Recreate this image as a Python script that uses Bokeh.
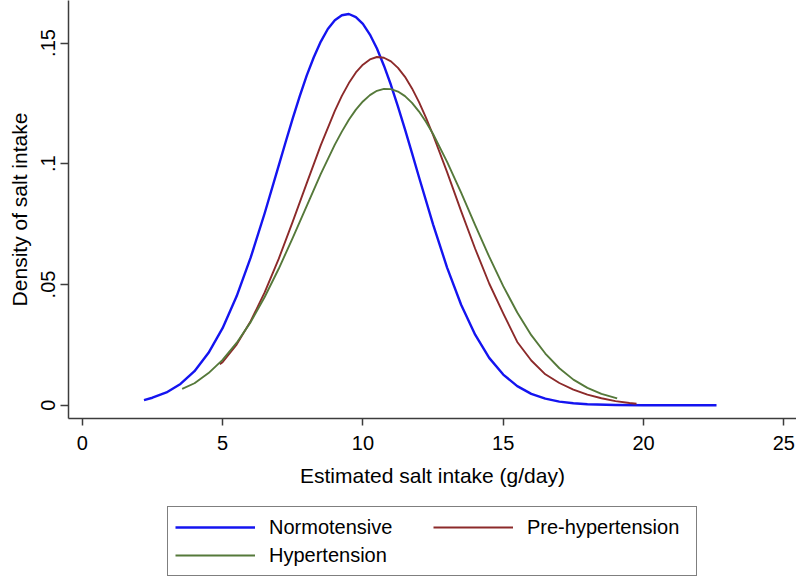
from bokeh.plotting import figure
from bokeh.layouts import column
from bokeh.models import FixedTicker, Legend, LegendItem, Range1d
from bokeh.embed import file_html
from bokeh.resources import INLINE

# ---- data ----
norm_x = [2.2, 2.5, 3.0, 3.5, 4.0, 4.5, 5.0, 5.5, 6.0, 6.5, 7.0, 7.25, 7.5, 7.75, 8.0,
          8.25, 8.5, 8.75, 9.0, 9.25, 9.5, 9.75, 10.0, 10.25, 10.5, 10.75, 11.0, 11.25,
          11.5, 11.75, 12.0, 12.5, 13.0, 13.5, 14.0, 14.5, 15.0, 15.5, 16.0, 16.5, 17.0,
          17.5, 18.0, 19.0, 20.0, 21.0, 22.6]
norm_y = [0.0021, 0.0031, 0.0053, 0.0088, 0.0141, 0.0217, 0.0319, 0.0451, 0.0611, 0.0795,
          0.0992, 0.1091, 0.1188, 0.1280, 0.1366, 0.1441, 0.1506, 0.1558, 0.1594, 0.1615,
          0.1620, 0.1607, 0.1579, 0.1535, 0.1477, 0.1406, 0.1326, 0.1237, 0.1142, 0.1044,
          0.0944, 0.0749, 0.0570, 0.0416, 0.0292, 0.0196, 0.0127, 0.0079, 0.0047, 0.0027,
          0.0015, 0.0008, 0.0004, 0.0001, 0.0, 0.0, 0.0]

pre_x = [4.9, 5.0, 5.5, 6.0, 6.5, 7.0, 7.5, 8.0, 8.5, 9.0, 9.25, 9.5, 9.75, 10.0, 10.25,
         10.5, 10.75, 11.0, 11.25, 11.5, 11.75, 12.0, 12.25, 12.5, 13.0, 13.5, 14.0, 14.5,
         15.0, 15.5, 16.0, 16.5, 17.0, 17.5, 18.0, 18.5, 19.0, 19.5, 19.75]
pre_y = [0.0170, 0.0178, 0.0251, 0.0348, 0.0467, 0.0606, 0.0760, 0.0920, 0.1077, 0.1219,
         0.1281, 0.1334, 0.1378, 0.1410, 0.1432, 0.1442, 0.1439, 0.1424, 0.1397, 0.1360,
         0.1312, 0.1255, 0.1190, 0.1119, 0.0965, 0.0804, 0.0648, 0.0504, 0.0380, 0.0262,
         0.0185, 0.0128, 0.0092, 0.0065, 0.0044, 0.0029, 0.0017, 0.0009, 0.0006]

hyp_x = [3.56, 4.0, 4.5, 5.0, 5.5, 6.0, 6.5, 7.0, 7.5, 8.0, 8.5, 9.0, 9.25, 9.5, 9.75,
         10.0, 10.25, 10.5, 10.75, 11.0, 11.25, 11.5, 11.75, 12.0, 12.25, 12.5, 13.0, 13.5,
         14.0, 14.5, 15.0, 15.5, 16.0, 16.5, 17.0, 17.5, 18.0, 18.5, 19.06]
hyp_y = [0.0068, 0.0091, 0.0133, 0.0188, 0.0258, 0.0344, 0.0448, 0.0565, 0.0693, 0.0826,
         0.0958, 0.1079, 0.1133, 0.1182, 0.1224, 0.1258, 0.1284, 0.1302, 0.1310, 0.1309,
         0.1299, 0.1280, 0.1252, 0.1216, 0.1173, 0.1123, 0.1008, 0.0880, 0.0746, 0.0615,
         0.0493, 0.0384, 0.0290, 0.0214, 0.0153, 0.0106, 0.0072, 0.0047, 0.0028]

series_names = ["Normotensive", "Pre-hypertension", "Hypertension"]
series_colors = ["#1414f0", "#8c2a2a", "#55793a"]
series_widths = [2.4, 1.9, 1.9]
x_ticks = [0, 5, 10, 15, 20, 25]
y_ticks = [0, 0.05, 0.1, 0.15]
y_tick_labels = ["0", ".05", ".1", ".15"]
x_title = "Estimated salt intake (g/day)"
y_title = "Density of salt intake"

FONT = "Liberation Sans"
AXIS_COLOR = "#3c3c3c"
series = [(norm_x, norm_y), (pre_x, pre_y), (hyp_x, hyp_y)]

# ---- main chart ----
p = figure(width=796, height=500, output_backend="svg", toolbar_location=None,
           x_range=Range1d(-0.49, 25.45), y_range=Range1d(-0.0055, 0.1676),
           min_border_left=68, min_border_right=0, min_border_top=0, min_border_bottom=82)
p.outline_line_color = None
p.xgrid.visible = False
p.ygrid.visible = False

for (xs, ys), c, w in zip(series, series_colors, series_widths):
    p.line(xs, ys, line_color=c, line_width=w, line_join="round")

for ax in (p.xaxis[0], p.yaxis[0]):
    ax.axis_line_color = AXIS_COLOR
    ax.axis_line_width = 1.5
    ax.major_tick_line_color = AXIS_COLOR
    ax.major_tick_line_width = 1.5
    ax.major_tick_in = 0
    ax.minor_tick_line_color = None
    ax.major_label_text_font = FONT
    ax.major_label_text_font_size = "20px"
    ax.major_label_text_color = "black"
    ax.axis_label_text_font = FONT
    ax.axis_label_text_font_size = "21px"
    ax.axis_label_text_font_style = "normal"
    ax.axis_label_text_color = "black"

p.xaxis.ticker = FixedTicker(ticks=x_ticks)
p.xaxis.major_tick_out = 7
p.xaxis.major_label_standoff = 10
p.xaxis.axis_label = x_title
p.xaxis.axis_label_standoff = 11

p.yaxis.ticker = FixedTicker(ticks=y_ticks)
p.yaxis.major_label_overrides = {t: s for t, s in zip(y_ticks, y_tick_labels)}
p.yaxis.major_label_orientation = "vertical"
p.yaxis.major_tick_out = 8
p.yaxis.major_label_standoff = 5
p.yaxis.axis_label = y_title
p.yaxis.axis_label_standoff = 8

# ---- legend strip (same series, drawn outside its view, only for the key) ----
pl = figure(width=796, height=77, output_backend="svg", toolbar_location=None,
            x_range=Range1d(-0.49, 25.45), y_range=Range1d(1.0, 2.0),
            x_axis_location=None, y_axis_location=None,
            min_border_left=0, min_border_right=0, min_border_top=0, min_border_bottom=0)
pl.outline_line_color = None
pl.xgrid.visible = False
pl.ygrid.visible = False
key_renderers = []
for (xs, ys), c, w in zip(series, series_colors, series_widths):
    key_renderers.append(pl.line(xs, ys, line_color=c, line_width=w))

legend = Legend(items=[LegendItem(label=n, renderers=[r])
                       for n, r in zip(series_names, key_renderers)],
                orientation="horizontal", ncols=2, location=(99, 1))
legend.margin = 0
legend.padding = 7
legend.spacing = 2
legend.glyph_width = 80
legend.glyph_height = 26
legend.label_standoff = 14
legend.label_width = 162
legend.label_text_font = FONT
legend.label_text_font_size = "20px"
legend.label_text_color = "black"
legend.border_line_color = "black"
legend.border_line_width = 1
legend.background_fill_color = "white"
legend.background_fill_alpha = 1
pl.add_layout(legend, "center")

layout = column(p, pl, spacing=0)
open("out.html", "w").write(file_html(layout, INLINE))
